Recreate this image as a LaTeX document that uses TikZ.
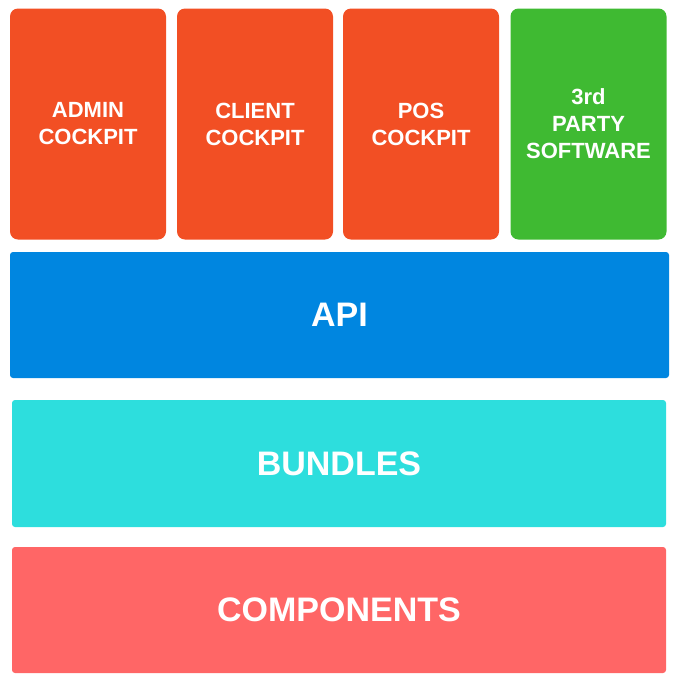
\documentclass[tikz,border=0pt]{standalone}
\usepackage{fontspec}
\setmainfont{Liberation Sans}
\definecolor{corange}{HTML}{F24F24}
\definecolor{cgreen}{HTML}{3FBA32}
\definecolor{cblue}{HTML}{0086E0}
\definecolor{ccyan}{HTML}{2DDEDD}
\definecolor{cred}{HTML}{FF6666}
\begin{document}
\begin{tikzpicture}[x=1pt,y=-1pt,
  topbox/.style={rounded corners=8pt, minimum width=156pt, minimum height=231pt, inner sep=0pt, align=center, text=white, font=\bfseries\fontsize{22}{27}\selectfont},
  layer/.style={rounded corners=3pt, inner sep=0pt, align=center, text=white, font=\bfseries\fontsize{34}{40}\selectfont, minimum height=126pt}]
\useasboundingbox (0,0) rectangle (678,686);
\node[topbox, fill=corange] (admin) at (88,124) {ADMIN\\COCKPIT};
\node[topbox, fill=corange] (client) at (255,124) {CLIENT\\COCKPIT};
\node[topbox, fill=corange] (pos) at (421,124) {POS\\COCKPIT};
\node[topbox, fill=cgreen] (third) at (588.5,124) {3rd\\PARTY\\SOFTWARE};
\node[layer, fill=cblue, minimum width=659pt] (api) at (339.5,315) {API};
\node[layer, fill=ccyan, minimum width=654pt, minimum height=127pt] (bundles) at (339,463.5) {BUNDLES};
\node[layer, fill=cred, minimum width=654pt] (components) at (339,610) {COMPONENTS};
\end{tikzpicture}
\end{document}
